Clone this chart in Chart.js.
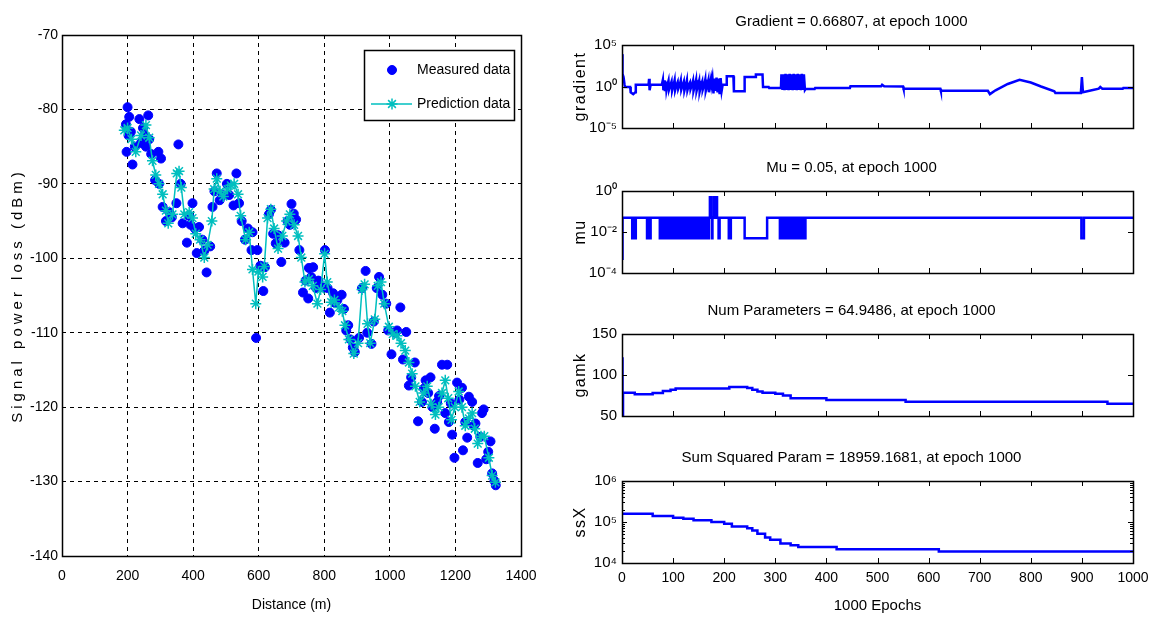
<!DOCTYPE html>
<html>
<head>
<meta charset="utf-8">
<title>Path loss prediction and training state</title>
<script src="https://cdn.jsdelivr.net/npm/chart.js@4.4.1/dist/chart.umd.min.js"></script>
<style>
  body { margin: 0; background: #fff; }
  #wrap { position: relative; width: 1149px; height: 617px; overflow: hidden; }
  canvas { position: absolute; }
</style>
</head>
<body>
<div id="wrap">
  <canvas id="lossChart" width="560" height="617" style="left:0;top:0"></canvas>
  <canvas id="gradChart" width="600" height="142" style="left:570px;top:0"></canvas>
  <canvas id="muChart" width="600" height="141" style="left:570px;top:146px"></canvas>
  <canvas id="gamkChart" width="600" height="141" style="left:570px;top:289px"></canvas>
  <canvas id="ssxChart" width="600" height="181" style="left:570px;top:436px"></canvas>
</div>
<script>
// ---- Left plot: measured vs predicted signal power loss ----
const measuredDist = [195, 197, 200, 203, 205, 210, 215, 222, 236, 241, 247, 251, 256, 263, 266, 272, 284, 294, 296, 302,
  307, 317, 327, 335, 349, 355, 362, 368, 381, 388, 392, 398, 405, 411, 418, 428, 434, 441, 452, 459,
  465, 472, 481, 490, 503, 510, 523, 532, 540, 548, 558, 567, 578, 581, 592, 596, 605, 614, 619, 631,
  637, 644, 652, 659, 669, 679, 688, 695, 700, 707, 714, 724, 735, 743, 751, 753, 760, 766, 775, 782,
  794, 802, 810, 817, 827, 833, 840, 853, 860, 867, 873, 880, 887, 893, 906, 915, 926, 931, 944, 951,
  960, 967, 977, 989, 995, 1005, 1015, 1022, 1032, 1040, 1050, 1058, 1065, 1076, 1086, 1098, 1104, 1109, 1117, 1124,
  1130, 1137, 1144, 1150, 1159, 1169, 1175, 1180, 1186, 1190, 1197, 1205, 1212, 1220, 1223, 1230, 1236, 1241, 1251, 1256,
  1261, 1268, 1276, 1281, 1286, 1294, 1300, 1307, 1312, 1319, 1323];
const measuredLoss = [-82, -85.7, -79.7, -83.5, -81, -83, -87.4, -85, -81.3, -84.5, -82.5, -83.5, -85, -80.8, -84, -86, -89.5, -85.7, -90, -86.6,
  -93.1, -95, -93.8, -94.5, -92.6, -84.7, -90, -95.3, -97.9, -94.3, -95.5, -92.6, -96, -99.3, -95.8, -97.5, -99, -101.9, -98.4, -93.1,
  -91, -88.6, -92.2, -91.5, -90, -91.5, -92.9, -88.6, -92.6, -95, -97.5, -96, -98.9, -96.5, -110.7, -98.9, -101, -104.4, -101.2, -94.1,
  -93.5, -96.7, -98, -96.9, -100.5, -97.9, -95, -95.5, -92.7, -94, -94.8, -98.9, -104.6, -103, -105.4, -101.3, -102.5, -101.2, -104, -103,
  -103.9, -98.9, -104, -107.3, -104.7, -106, -105.6, -104.9, -106.8, -109.7, -109, -110.9, -112, -112.6, -110.7, -104, -101.7, -110, -111.5, -108.5,
  -104, -102.5, -104.9, -106.1, -109.7, -112.9, -110, -109.7, -106.6, -113.6, -109.9, -117.1, -116, -114, -121.9, -119.3, -117.5, -116.4, -118.1, -116,
  -120, -122.9, -119.3, -118.5, -114.3, -120.8, -114.3, -122, -119.5, -123.7, -126.8, -116.7, -119, -117.4, -125.8, -122, -124.1, -118.6, -119.3, -122.5,
  -122.2, -127.5, -124, -120.8, -120.3, -127, -126, -124.6, -128.9, -129.9, -130.5];

const predDist = [190, 200, 212, 225, 241, 256, 266, 276, 286, 296, 307, 317, 324, 337, 350, 357, 364, 373, 388, 398,
  408, 421, 434, 444, 457, 464, 472, 482, 492, 505, 515, 525, 537, 545, 560, 571, 581, 591, 599, 612,
  617, 627, 637, 647, 659, 672, 685, 695, 708, 720, 730, 741, 753, 765, 779, 789, 801, 809, 821, 831,
  845, 855, 863, 875, 890, 903, 915, 923, 932, 940, 954, 963, 973, 983, 997, 1009, 1022, 1034, 1047, 1058,
  1068, 1078, 1091, 1103, 1114, 1126, 1139, 1149, 1159, 1169, 1178, 1188, 1198, 1210, 1220, 1230, 1241, 1251, 1259, 1268,
  1278, 1288, 1302, 1312, 1322];
const predLoss = [-82.8, -82.5, -84, -85.7, -83.5, -82.1, -83.8, -86.9, -88.8, -90, -91.4, -93.6, -95.3, -94.1, -88.6, -88.3, -90.5, -94.1, -93.8, -94.6,
  -96.7, -97.5, -99.9, -98.2, -95, -90.7, -89.3, -91, -91.7, -90.7, -90.2, -90, -91.4, -94.3, -97.5, -96.5, -101.5, -106.1, -101.8, -102.5,
  -101.1, -94.6, -93.4, -96, -98.7, -97, -95, -94.1, -95.5, -97, -99.9, -103.2, -102.8, -103.7, -106.1, -104.2, -99.4, -103.2, -105.9, -105.6,
  -106.6, -107.1, -109, -110.9, -112.8, -111.4, -104.2, -103.5, -108.8, -111.4, -108.2, -103.7, -103.2, -106.1, -109.2, -110.2, -110.4, -111.4, -112.4, -114,
  -115.5, -117.2, -119.3, -118.1, -117.2, -119.6, -121, -120, -118.1, -116.4, -118.8, -121.7, -120, -117.9, -120, -122.5, -121.5, -120.8, -122.9, -124.9,
  -123.9, -123.9, -126.8, -129.2, -130.1];

const lossXTicks = [0, 200, 400, 600, 800, 1000, 1200, 1400];
const lossYTicks = [-140, -130, -120, -110, -100, -90, -80, -70];

// ---- Right plots: training state over 1000 epochs ----
const gradEpochs = [0, 1, 3, 5, 6, 16, 17, 22, 26, 27, 52, 53, 54, 56, 78,
  80, 81, 83, 84, 86, 87, 89, 91, 92, 95, 97, 98, 101, 103, 104,
  107, 109, 110, 113, 115, 116, 119, 121, 122, 125, 127, 128, 131, 133, 134,
  137, 139, 140, 143, 145, 146, 149, 151, 152, 155, 157, 158, 161, 163, 164,
  167, 169, 170, 172, 174, 175, 177, 179, 181, 183, 185, 187, 189, 191, 193,
  195, 197, 204, 205, 218, 219, 239, 240, 261, 262, 275, 276, 287, 288, 311,
  312, 314, 316, 318, 320, 322, 324, 326, 328, 330, 332, 334, 336, 338, 340,
  342, 344, 346, 348, 350, 352, 354, 356, 358, 359, 377, 378, 446, 447, 507,
  509, 513, 550, 551, 623, 624, 716, 720, 731, 755, 778, 800, 820, 846, 848,
  898, 900, 902, 915, 933, 936, 940, 980, 981, 1000];
const gradValues = [7943, 33, 13.5, 1.66, 0.87, 0.87, 0.2, 0.12, 0.2, 1.66, 1.66, 8.5, 0.35, 1.66, 1.66,
  6.5, 0.35, 5.4, 0.27, 4, 0.35, 1.66, 5, 0.4, 1.66, 4, 0.3, 1.66, 6, 0.35,
  1.66, 3.5, 0.5, 1.66, 5.5, 0.4, 1.66, 4, 0.3, 1.66, 6, 0.35, 1.66, 3, 0.45,
  1.66, 5, 0.3, 1.66, 6.5, 0.3, 1.66, 5, 0.25, 1.66, 4, 0.4, 1.66, 7, 0.3,
  1.66, 6, 0.2, 1.66, 8, 1.6, 10, 0.15, 9, 0.3, 12, 0.2, 9, 0.12, 10,
  0.3, 1.66, 1.66, 17, 17, 0.27, 0.27, 13.5, 13.5, 27, 27, 0.87, 0.87, 0.66, 0.66,
  30, 0.4, 30, 0.35, 33, 0.4, 30, 0.35, 33, 0.4, 30, 0.35, 33, 0.4, 30,
  0.35, 33, 0.4, 30, 0.35, 33, 0.4, 30, 0.4, 0.5, 0.5, 0.66, 0.66, 1.05, 1.05,
  1.6, 1.05, 1.0, 0.55, 0.55, 0.3, 0.3, 0.12, 0.35, 2, 6.5, 3, 1, 0.27, 0.17,
  0.17, 13.5, 0.2, 0.3, 0.55, 0.87, 0.55, 0.55, 0.66, 0.66807];

const muEpochs = [0, 1, 20, 22, 26, 27, 49, 51, 55, 56, 74, 76, 78, 80, 84, 85, 88, 89, 92, 93,
  96, 98, 100, 102, 104, 105, 108, 110, 112, 114, 116, 117, 120, 122, 124, 126, 128, 129, 132, 134,
  136, 138, 140, 141, 144, 146, 148, 150, 152, 153, 156, 158, 160, 162, 164, 165, 168, 170, 172, 174,
  176, 177, 179, 182, 184, 186, 189, 191, 209, 213, 240, 284, 309, 311, 313, 315, 317, 319, 321, 323,
  325, 327, 329, 331, 333, 335, 337, 339, 341, 343, 345, 347, 349, 351, 353, 355, 357, 359, 899, 904, 1000];
const muValues = [0.0005, 0.05, 0.005, 0.05, 0.005, 0.05, 0.005, 0.05, 0.005, 0.05, 0.005, 0.05, 0.005, 0.05, 0.005, 0.05, 0.005, 0.05, 0.005, 0.05,
  0.005, 0.05, 0.005, 0.05, 0.005, 0.05, 0.005, 0.05, 0.005, 0.05, 0.005, 0.05, 0.005, 0.05, 0.005, 0.05, 0.005, 0.05, 0.005, 0.05,
  0.005, 0.05, 0.005, 0.05, 0.005, 0.05, 0.005, 0.05, 0.005, 0.05, 0.005, 0.05, 0.005, 0.05, 0.005, 0.05, 0.005, 0.05, 0.5, 0.05,
  0.005, 0.05, 0.5, 0.05, 0.5, 0.05, 0.005, 0.05, 0.005, 0.05, 0.005, 0.05, 0.005, 0.05, 0.005, 0.05, 0.005, 0.05, 0.005, 0.05,
  0.005, 0.05, 0.005, 0.05, 0.005, 0.05, 0.005, 0.05, 0.005, 0.05, 0.005, 0.05, 0.005, 0.05, 0.005, 0.05, 0.005, 0.05, 0.005, 0.05, 0.05];

const gamkEpochs = [0, 1, 2, 25, 60, 80, 95, 105, 210, 245, 255, 265, 275, 300, 315, 330, 400, 555, 950, 1000];
const gamkValues = [120, 50, 78.5, 76.5, 78, 80.5, 82, 83.5, 85.5, 84, 82, 80, 78.5, 77, 75, 71.5, 69.5, 67.5, 64.95, 64.95];

const ssxEpochs = [0, 60, 100, 120, 140, 175, 200, 215, 245, 255, 265, 280, 290, 310, 330, 345, 420, 620, 1000];
const ssxValues = [160000, 140000, 127000, 120000, 110000, 100000, 91000, 78000, 70000, 62000, 52000, 42000, 37000, 30000, 27000, 24500, 21500, 18959, 18959];

const epochTicks = [0, 100, 200, 300, 400, 500, 600, 700, 800, 900, 1000];

const FONT = "'Liberation Sans', Arial, sans-serif";
Chart.defaults.font.family = FONT;
Chart.defaults.color = '#000';

const SUP = { '0': '\u2070', '1': '\u00b9', '2': '\u00b2', '3': '\u00b3', '4': '\u2074', '5': '\u2075', '6': '\u2076', '-': '\u207b' };
function powerLabel(v) {
  const p = String(Math.round(Math.log10(v)));
  return '10' + p.split('').map(c => SUP[c]).join('');
}

function toPoints(xs, ys) {
  return xs.map((x, i) => ({ x: x, y: ys[i] }));
}

// Box around the plot area with MATLAB style inward ticks
const framePlugin = {
  id: 'frame',
  afterDatasetsDraw(chart, args, opts) {
    const { ctx, chartArea: a, scales } = chart;
    const len = opts.tickLen || 0;
    ctx.save();
    ctx.strokeStyle = '#000';
    ctx.lineWidth = 1;
    if (len) {
      ctx.beginPath();
      scales.x.ticks.forEach(t => {
        const px = Math.round(scales.x.getPixelForValue(t.value)) + 0.5;
        ctx.moveTo(px, a.bottom); ctx.lineTo(px, a.bottom - len);
        ctx.moveTo(px, a.top); ctx.lineTo(px, a.top + len);
      });
      scales.y.ticks.forEach(t => {
        const py = Math.round(scales.y.getPixelForValue(t.value)) + 0.5;
        ctx.moveTo(a.left, py); ctx.lineTo(a.left + len, py);
        ctx.moveTo(a.right, py); ctx.lineTo(a.right - len, py);
      });
      (opts.minor || []).forEach(v => {
        const py = Math.round(scales.y.getPixelForValue(v)) + 0.5;
        ctx.moveTo(a.left, py); ctx.lineTo(a.left + 3, py);
        ctx.moveTo(a.right, py); ctx.lineTo(a.right - 3, py);
      });
      ctx.stroke();
    }
    ctx.lineWidth = opts.lineWidth || 1.5;
    ctx.strokeRect(Math.round(a.left) + 0.5, Math.round(a.top) + 0.5, Math.round(a.right - a.left), Math.round(a.bottom - a.top));
    // spaced-out vertical axis label, drawn beside the tick labels
    if (opts.yLabel) {
      ctx.save();
      ctx.translate(opts.yLabelX, (a.top + a.bottom) / 2);
      ctx.rotate(-Math.PI / 2);
      ctx.font = opts.yLabelFont;
      ctx.letterSpacing = opts.yLabelSpacing || '0px';
      ctx.fillStyle = '#000';
      ctx.textAlign = 'center';
      ctx.textBaseline = 'middle';
      ctx.fillText(opts.yLabel, 0, 0);
      ctx.restore();
    }
    ctx.restore();
  }
};

// Legend box drawn inside the plot area, top right
const legendBoxPlugin = {
  id: 'legendBox',
  afterDraw(chart) {
    const { ctx, chartArea } = chart;
    const w = 150, h = 70;
    const x = chartArea.right - w - 7, y = chartArea.top + 15;
    ctx.save();
    ctx.fillStyle = '#fff';
    ctx.fillRect(x, y, w, h);
    ctx.strokeStyle = '#000';
    ctx.lineWidth = 1.5;
    ctx.strokeRect(x + 0.5, y + 0.5, w, h);
    ctx.font = '14px ' + FONT;
    ctx.textBaseline = 'middle';
    chart.data.datasets.forEach((ds, i) => {
      const cy = y + 20 + i * 34;
      ctx.strokeStyle = ds.borderColor;
      ctx.fillStyle = ds.backgroundColor;
      ctx.lineWidth = ds.borderWidth;
      if (ds.showLine) {
        ctx.beginPath();
        ctx.moveTo(x + 7, cy); ctx.lineTo(x + 48, cy);
        ctx.stroke();
      }
      Chart.helpers.drawPoint(ctx, { pointStyle: ds.pointStyle, radius: ds.pointRadius, borderWidth: ds.borderWidth, rotation: 0 }, x + 28, cy);
      ctx.fillStyle = '#000';
      ctx.fillText(ds.label, x + 53, cy);
    });
    ctx.restore();
  }
};

function createLossChart() {
  new Chart(document.getElementById('lossChart'), {
    type: 'scatter',
    data: {
      datasets: [{
        label: 'Measured data',
        data: toPoints(measuredDist, measuredLoss),
        pointStyle: 'circle',
        pointRadius: 4.5,
        borderWidth: 1,
        borderColor: '#0000ff',
        backgroundColor: '#0000ff',
        showLine: false,
        order: 2
      }, {
        label: 'Prediction data',
        data: toPoints(predDist, predLoss),
        pointStyle: 'star',
        pointRadius: 5.5,
        borderWidth: 1.5,
        borderColor: '#00bfbf',
        backgroundColor: '#00bfbf',
        showLine: true,
        order: 1
      }]
    },
    options: {
      responsive: false,
      animation: false,
      devicePixelRatio: 1,
      layout: { padding: { top: 35, right: 39, left: 0, bottom: 0 } },
      plugins: {
        legend: { display: false },
        tooltip: { enabled: false },
        frame: {
          tickLen: 0, lineWidth: 1.5,
          yLabel: 'Signal power loss (dBm)', yLabelX: 18, yLabelFont: '15px ' + FONT, yLabelSpacing: '4px'
        }
      },
      scales: {
        x: {
          type: 'linear', min: 0, max: 1400,
          afterBuildTicks: s => { s.ticks = lossXTicks.map(v => ({ value: v })); },
          afterFit: s => { s.height = 61; },
          ticks: { font: { size: 14 }, padding: 12, color: '#000', callback: v => String(v) },
          grid: { color: '#000', lineWidth: 1, drawTicks: false },
          border: { display: false, dash: [4, 4] },
          title: { display: true, text: 'Distance (m)', font: { size: 14 }, padding: { top: 0, bottom: 3 } }
        },
        y: {
          type: 'linear', min: -140, max: -70,
          afterBuildTicks: s => { s.ticks = lossYTicks.map(v => ({ value: v })); },
          afterFit: s => { s.width = 62; },
          ticks: { font: { size: 14 }, padding: 4, color: '#000', callback: v => String(v) },
          grid: { color: '#000', lineWidth: 1, drawTicks: false },
          border: { display: false, dash: [4, 4] },
          title: { display: false }
        }
      }
    },
    plugins: [framePlugin, legendBoxPlugin]
  });
}

function createTrainPlot(id, cfg) {
  const last = !!cfg.showX;
  const yScale = {
    type: cfg.log ? 'logarithmic' : 'linear',
    min: cfg.yTicks[0],
    max: cfg.yTicks[cfg.yTicks.length - 1],
    afterBuildTicks: s => { s.ticks = cfg.yTicks.map(v => ({ value: v })); },
    afterFit: s => { s.width = 52; },
    ticks: {
      font: { size: 15 }, padding: 5, color: '#000',
      callback: v => cfg.log ? powerLabel(v) : String(v)
    },
    grid: { display: false, drawTicks: false },
    border: { display: false },
    title: { display: false }
  };
  new Chart(document.getElementById(id), {
    type: 'line',
    data: {
      datasets: [{
        data: toPoints(cfg.xs, cfg.ys),
        borderColor: '#0000ff',
        borderWidth: 2.5,
        pointRadius: 0,
        stepped: cfg.stepped || false,
        fill: false
      }]
    },
    options: {
      responsive: false,
      animation: false,
      devicePixelRatio: 1,
      layout: { padding: { top: 13, right: 37, left: 0, bottom: last ? 0 : 12 } },
      plugins: {
        legend: { display: false },
        tooltip: { enabled: false },
        title: { display: true, text: cfg.title, font: { size: 15, weight: 'normal' }, color: '#000', padding: { top: 0, bottom: 14 } },
        frame: {
          tickLen: 5, lineWidth: 1.5, minor: cfg.minor || [],
          yLabel: cfg.yTitle, yLabelX: 11, yLabelFont: '16px ' + FONT, yLabelSpacing: '1.5px'
        }
      },
      scales: {
        x: {
          type: 'linear', min: 0, max: 1000,
          afterBuildTicks: s => { s.ticks = epochTicks.map(v => ({ value: v })); },
          afterFit: s => { s.height = last ? 54 : 0; },
          ticks: { display: last, font: { size: 14 }, padding: 7, color: '#000', maxRotation: 0, callback: v => String(v) },
          grid: { display: false, drawTicks: false },
          border: { display: false },
          title: { display: last, text: '1000 Epochs', font: { size: 15 }, padding: { top: 0, bottom: 2 } }
        },
        y: yScale
      }
    },
    plugins: [framePlugin]
  });
}

createLossChart();

createTrainPlot('gradChart', {
  title: 'Gradient = 0.66807, at epoch 1000', yTitle: 'gradient', log: true,
  yTicks: [1e-5, 1, 1e5], xs: gradEpochs, ys: gradValues
});
createTrainPlot('muChart', {
  title: 'Mu = 0.05, at epoch 1000', yTitle: 'mu', log: true, stepped: true,
  yTicks: [1e-4, 1e-2, 1], xs: muEpochs, ys: muValues
});
createTrainPlot('gamkChart', {
  title: 'Num Parameters = 64.9486, at epoch 1000', yTitle: 'gamk', stepped: true,
  yTicks: [50, 100, 150], xs: gamkEpochs, ys: gamkValues
});
createTrainPlot('ssxChart', {
  title: 'Sum Squared Param = 18959.1681, at epoch 1000', yTitle: 'ssX', log: true, stepped: true, showX: true,
  yTicks: [1e4, 1e5, 1e6], xs: ssxEpochs, ys: ssxValues,
  minor: [2e4, 3e4, 4e4, 5e4, 6e4, 7e4, 8e4, 9e4, 2e5, 3e5, 4e5, 5e5, 6e5, 7e5, 8e5, 9e5]
});
</script>
</body>
</html>
